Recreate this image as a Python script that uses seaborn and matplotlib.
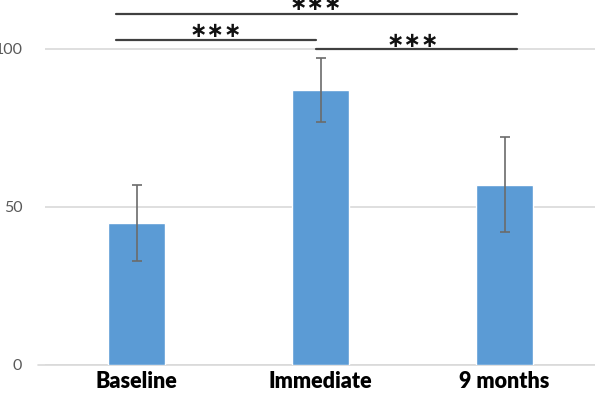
import matplotlib
matplotlib.use("Agg")
import matplotlib.pyplot as plt
import seaborn as sns
import pandas as pd
import numpy as np

categories = ["Baseline", "Immediate", "9 months"]
means = [45, 87, 57]
err_low = [33, 77, 42]
err_high = [57, 97, 72]
y_ticks = [0, 50, 100]
# significance brackets: (x_start, x_end, y)
sig_lines = [(-0.11, 2.066, 111.0), (-0.11, 0.976, 102.8), (0.976, 2.066, 100.0)]
sig_labels = [(0.976, 114.9, "∗∗∗"), (0.43, 106.4, "∗∗∗"), (1.50, 103.2, "∗∗∗")]

sns.set_theme(style="white")
plt.rcParams['font.family'] = ['Lato', 'DejaVu Sans']

fig = plt.figure(figsize=(5.95, 3.99), dpi=100)
ax = fig.add_axes([44.5/595, 34/399, 552/595, 365/399])

df = pd.DataFrame({"cat": categories, "val": means})
sns.barplot(data=df, x="cat", y="val", color="#5B9BD5", saturation=1,
            width=0.31, errorbar=None, ax=ax, zorder=3)

x = np.arange(len(categories))
lower = np.array(means) - np.array(err_low)
upper = np.array(err_high) - np.array(means)
ax.errorbar(x, means, yerr=[lower, upper], fmt="none", ecolor="#6b6b6b",
            elinewidth=1.2, capsize=3.5, capthick=1.2, zorder=4)

ax.set_xlim(-0.5, 2.5)
ax.set_ylim(0, 365/3.16)
ax.set_yticks(y_ticks)
ax.set_yticklabels([str(t) for t in y_ticks])
ax.yaxis.grid(True, color="#d9d9d9", linewidth=1.2, zorder=0)
ax.set_axisbelow(True)
for s in ax.spines.values():
    s.set_visible(False)
ax.axhline(0, color="#d9d9d9", linewidth=1.2, zorder=1, xmin=-0.012, clip_on=False)
ax.tick_params(axis="y", length=0, pad=16, labelsize=11.5, labelcolor="#595959")
ax.tick_params(axis="x", length=0, pad=4, labelsize=15.5, labelcolor="black")
for lab in ax.get_xticklabels():
    lab.set_fontweight("heavy")
ax.set_xlabel("")
ax.set_ylabel("")

for x0, x1, yv in sig_lines:
    ax.plot([x0, x1], [yv, yv], color="#404040", linewidth=1.6, clip_on=False, zorder=5)
for lx, ly, t in sig_labels:
    ax.text(lx, ly, t, ha="center", va="center_baseline", fontsize=15, color="#111111",
            family="DejaVu Sans", fontweight="bold", clip_on=False)

fig.savefig("out.png", dpi=100)
